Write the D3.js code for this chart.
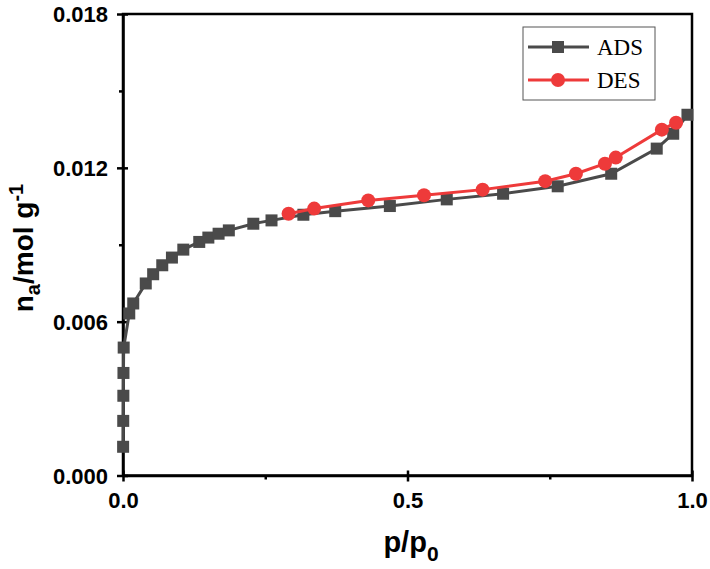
<!DOCTYPE html>
<html><head><meta charset="utf-8">
<script src="https://cdn.jsdelivr.net/npm/d3@7"></script>
<style>body{margin:0;background:#fff;} svg{display:block;}</style>
</head><body>
<svg id="c" width="710" height="569"></svg>
<script>
const adsX = [0.0002,0.0004,0.0006,0.0008,0.0012,0.011,0.018,0.040,0.053,0.069,0.086,0.106,0.134,0.150,0.168,0.186,0.229,0.261,0.317,0.373,0.469,0.569,0.668,0.764,0.858,0.938,0.967,0.992];
const adsY = [0.00112,0.00213,0.00311,0.00400,0.00499,0.00632,0.00671,0.00749,0.00785,0.00820,0.00850,0.00881,0.00911,0.00928,0.00943,0.00956,0.00982,0.00995,0.01017,0.01031,0.01051,0.01077,0.01099,0.01128,0.01177,0.01275,0.01333,0.01407];
const desX = [0.291,0.336,0.431,0.529,0.632,0.742,0.796,0.847,0.866,0.947,0.972];
const desY = [0.01021,0.01041,0.01073,0.01093,0.01115,0.01148,0.01177,0.01216,0.01240,0.01349,0.01376];
const xTicks = [0, 0.5, 1.0];
const xMinor = [0.25, 0.75];
const yTicks = [0, 0.006, 0.012, 0.018];
const yMinor = [0.003, 0.009, 0.015];
const seriesNames = ["ADS", "DES"];
const colors = ["#4a4a4a", "#ee3a3a"];

const svg = d3.select("#c");
const L = 123, R = 692, T = 14, B = 475.5;
const x = d3.scaleLinear().domain([0, 1]).range([L, R]);
const y = d3.scaleLinear().domain([0, 0.018]).range([B, T]);
const sans = "Liberation Sans, Arial, sans-serif";

// frame
svg.append("rect").attr("x", L).attr("y", T).attr("width", R - L).attr("height", B - T)
  .attr("fill", "none").attr("stroke", "#000").attr("stroke-width", 2.5);

// axes
const xAxis = d3.axisBottom(x).tickValues(xTicks).tickFormat(d3.format(".1f")).tickSizeInner(6).tickSizeOuter(0);
const gx = svg.append("g").attr("transform", `translate(0,${B})`).call(xAxis);
gx.select(".domain").attr("stroke-width", 2.5);
gx.selectAll(".tick line").attr("stroke-width", 2.5).attr("y1", -5).attr("y2", 6);
gx.selectAll("text").attr("y", 32.5).attr("dy", 0).attr("font-family", sans).attr("font-weight", "bold").attr("font-size", 22).attr("fill", "#000");
const gxm = svg.append("g").attr("transform", `translate(0,${B})`).call(d3.axisBottom(x).tickValues(xMinor).tickSize(4).tickFormat(""));
gxm.select(".domain").remove();
gxm.selectAll(".tick line").attr("stroke-width", 2.5);

const yAxis = d3.axisLeft(y).tickValues(yTicks).tickFormat(d3.format(".3f")).tickSizeInner(6).tickSizeOuter(0).tickPadding(9);
const gy = svg.append("g").attr("transform", `translate(${L},0)`).call(yAxis);
gy.select(".domain").attr("stroke-width", 2.5);
gy.selectAll(".tick line").attr("stroke-width", 2.5).attr("x1", 5).attr("x2", -6);
gy.selectAll("text").attr("font-family", sans).attr("font-weight", "bold").attr("font-size", 22).attr("fill", "#000").attr("dy", "0.36em");
const gym = svg.append("g").attr("transform", `translate(${L},0)`).call(d3.axisLeft(y).tickValues(yMinor).tickSize(4).tickFormat(""));
gym.select(".domain").remove();
gym.selectAll(".tick line").attr("stroke-width", 2.5);

// data
const ads = adsX.map((v, i) => [v, adsY[i]]);
const des = desX.map((v, i) => [v, desY[i]]);
const line = d3.line().x(d => x(d[0])).y(d => y(d[1]));
svg.append("path").datum(ads).attr("d", line).attr("fill", "none").attr("stroke", colors[0]).attr("stroke-width", 3);
const sq = 12;
svg.append("g").selectAll("rect").data(ads).join("rect")
  .attr("x", d => x(d[0]) - sq / 2).attr("y", d => y(d[1]) - sq / 2)
  .attr("width", sq).attr("height", sq).attr("fill", colors[0]);
svg.append("path").datum(des).attr("d", line).attr("fill", "none").attr("stroke", colors[1]).attr("stroke-width", 3);
svg.append("g").selectAll("circle").data(des).join("circle")
  .attr("cx", d => x(d[0])).attr("cy", d => y(d[1])).attr("r", 7).attr("fill", colors[1]);

// legend
const lg = svg.append("g");
lg.append("rect").attr("x", 523).attr("y", 27).attr("width", 132).attr("height", 73)
  .attr("fill", "#fff").attr("stroke", "#555").attr("stroke-width", 1);
seriesNames.forEach((n, i) => {
  const yy = 47 + i * 33;
  lg.append("line").attr("x1", 528).attr("x2", 589).attr("y1", yy).attr("y2", yy).attr("stroke", colors[i]).attr("stroke-width", 3);
  if (i === 0) lg.append("rect").attr("x", 558 - 6).attr("y", yy - 6).attr("width", 12).attr("height", 12).attr("fill", colors[0]);
  else lg.append("circle").attr("cx", 558).attr("cy", yy).attr("r", 7).attr("fill", colors[1]);
  lg.append("text").attr("x", 597).attr("y", yy).attr("dy", "0.35em").attr("font-family", "Liberation Serif, Times New Roman, serif")
    .attr("font-size", 23).attr("fill", "#000").text(n);
});

// axis titles
const xt = svg.append("text").attr("x", 411).attr("y", 552).attr("text-anchor", "middle")
  .attr("font-family", sans).attr("font-weight", "bold").attr("font-size", 29).attr("fill", "#000");
xt.append("tspan").text("p/p");
xt.append("tspan").attr("dy", 9).attr("font-size", 21).text("0");

const yt = svg.append("text").attr("transform", `translate(33,248) rotate(-90)`).attr("text-anchor", "middle")
  .attr("font-family", sans).attr("font-weight", "bold").attr("font-size", 28).attr("fill", "#000");
yt.append("tspan").text("n");
yt.append("tspan").attr("dy", 7).attr("font-size", 20).text("a");
yt.append("tspan").attr("dy", -7).text("/mol g");
yt.append("tspan").attr("dy", -10).attr("font-size", 20).text("-1");
</script>
</body></html>
